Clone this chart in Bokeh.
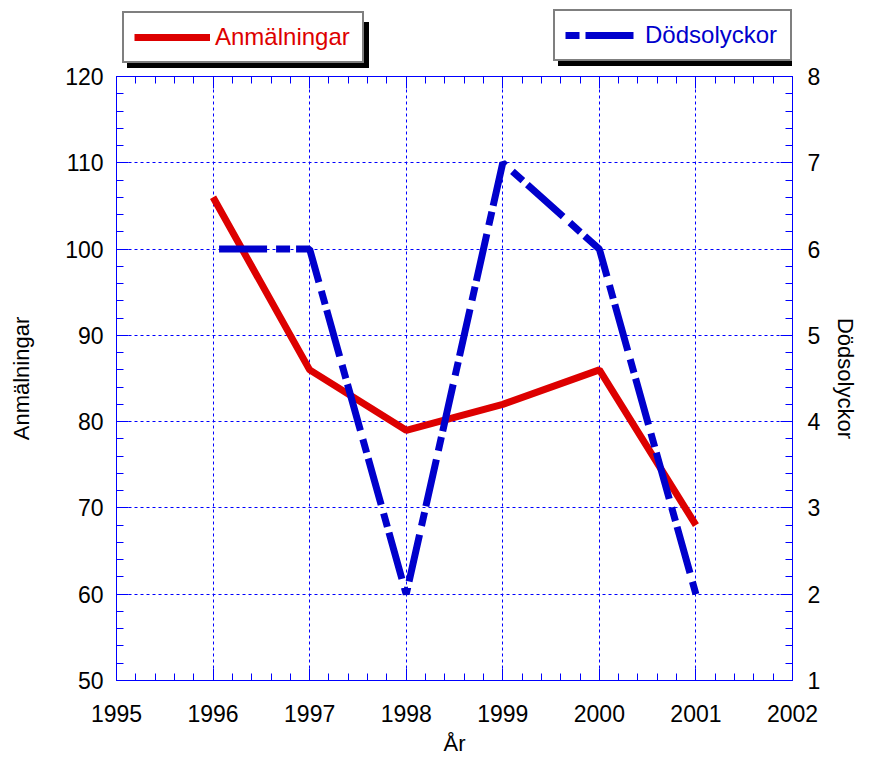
from bokeh.plotting import figure
from bokeh.models import (Range1d, LinearAxis, SingleIntervalTicker, Legend,
                          LegendItem, ColumnDataSource)
from bokeh.layouts import column
from bokeh.embed import file_html
from bokeh.resources import INLINE

# ---- data ----
years = [1996, 1997, 1998, 1999, 2000, 2001]
anmalningar = [106, 86, 79, 82, 86, 68]
dodsolyckor = [6, 6, 2, 7, 6, 2]

x_limits = (1995, 2002)
left_limits = (50, 120)
right_limits = (1, 8)

x_title = "År"
left_title = "Anmälningar"
right_title = "Dödsolyckor"

RED = "#dd0000"
BLUE = "#0000cc"
AXBLUE = "#0000ff"
FONT = "Liberation Sans"
DASH = "48 9 14 6"

W = 861
LEG_H = 76
OVERLAP = 16
MAIN_H = 702
BL, BR = 116, 64

# ---------------- main chart ----------------
p = figure(width=W, height=MAIN_H, output_backend="svg", toolbar_location=None,
           x_range=Range1d(*x_limits), y_range=Range1d(*left_limits),
           min_border_left=BL, min_border_right=BR,
           min_border_top=16, min_border_bottom=82)
p.extra_y_ranges = {"d": Range1d(*right_limits)}
p.outline_line_color = None
p.background_fill_color = "white"
p.border_fill_color = "white"
p.border_fill_alpha = 0

def style_axis(ax, standoff):
    ax.axis_line_color = AXBLUE
    ax.axis_line_width = 1
    ax.major_tick_line_color = AXBLUE
    ax.minor_tick_line_color = AXBLUE
    ax.major_tick_in = 12
    ax.major_tick_out = 0
    ax.minor_tick_in = 7
    ax.minor_tick_out = 0
    ax.major_label_text_font = FONT
    ax.major_label_text_font_size = "23px"
    ax.major_label_text_color = "black"
    ax.major_label_standoff = standoff
    ax.axis_label_text_font = FONT
    ax.axis_label_text_font_size = "22px"
    ax.axis_label_text_font_style = "normal"
    ax.axis_label_text_color = "black"

xa = p.xaxis[0]
xa.ticker = SingleIntervalTicker(interval=1, num_minor_ticks=5)
style_axis(xa, 24)
xa.axis_label = x_title
xa.axis_label_standoff = 6

ya = p.yaxis[0]
ya.ticker = SingleIntervalTicker(interval=10, num_minor_ticks=5)
style_axis(ya, 13)
ya.axis_label = left_title
ya.axis_label_standoff = 28

ra = LinearAxis(y_range_name="d",
                ticker=SingleIntervalTicker(interval=1, num_minor_ticks=5))
style_axis(ra, 15)
ra.axis_label = right_title
ra.axis_label_standoff = 10
p.add_layout(ra, "right")

ta = LinearAxis(ticker=SingleIntervalTicker(interval=1, num_minor_ticks=5))
style_axis(ta, 0)
ta.major_label_overrides = {y: "" for y in range(x_limits[0], x_limits[1] + 1)}
ta.major_label_text_font_size = "1px"
p.add_layout(ta, "above")

for g in (p.xgrid[0], p.ygrid[0]):
    g.grid_line_color = AXBLUE
    g.grid_line_dash = "3 3"
    g.grid_line_width = 1

src_a = ColumnDataSource(dict(x=years, y=anmalningar))
src_d = ColumnDataSource(dict(x=years, y=dodsolyckor))

p.line("x", "y", source=src_a, line_color=RED, line_width=7)
p.line("x", "y", source=src_d, y_range_name="d", line_color=BLUE,
       line_width=7, line_dash=DASH, line_dash_offset=71)

# ---------------- legend strip ----------------
lf = figure(width=W, height=LEG_H, output_backend="svg", toolbar_location=None,
            x_range=Range1d(0, 1), y_range=Range1d(0, 1),
            min_border_left=BL, min_border_right=BR,
            min_border_top=0, min_border_bottom=0,
            x_axis_location=None, y_axis_location=None,
            margin=(0, 0, -OVERLAP, 0))
lf.outline_line_color = None
lf.grid.visible = False
lf.background_fill_alpha = 0
lf.border_fill_alpha = 0

# legend sample renderers (kept outside the visible range)
d1 = lf.line(x=[-5, -4], y=[-5, -5], line_color=RED, line_width=7)
d2 = lf.line(x=[-5, -4], y=[-5, -5], line_color=BLUE, line_width=7,
             line_dash=DASH, line_dash_offset=57)

def make_legend(renderer, label, color, loc, gw, standoff, lw, shadow=False):
    lg = Legend(items=[LegendItem(label=(" " if shadow else label),
                                  renderers=[renderer])],
                location=loc, orientation="vertical")
    lg.padding = 10
    lg.margin = 0
    lg.glyph_width = gw
    lg.glyph_height = 22
    lg.label_height = 22
    lg.label_width = lw
    lg.label_standoff = standoff
    lg.label_text_font = FONT
    lg.label_text_font_size = "24px"
    lg.border_line_width = 2
    lg.border_line_color = "black"
    lg.background_fill_alpha = 1
    if shadow:
        lg.background_fill_color = "black"
        lg.label_text_color = "black"
    else:
        lg.background_fill_color = "white"
        lg.label_text_color = color
    return lg

lf.add_layout(make_legend(d1, left_title, RED, (11, 8), 76, 5, 137, True))
lf.add_layout(make_legend(d1, left_title, RED, (6, 13), 76, 5, 137))
lf.add_layout(make_legend(d2, right_title, BLUE, (442, 10), 70, 10, 135, True))
lf.add_layout(make_legend(d2, right_title, BLUE, (437, 15), 70, 10, 135))

layout = column(lf, p, spacing=0)
open("out.html", "w").write(file_html(layout, INLINE))
